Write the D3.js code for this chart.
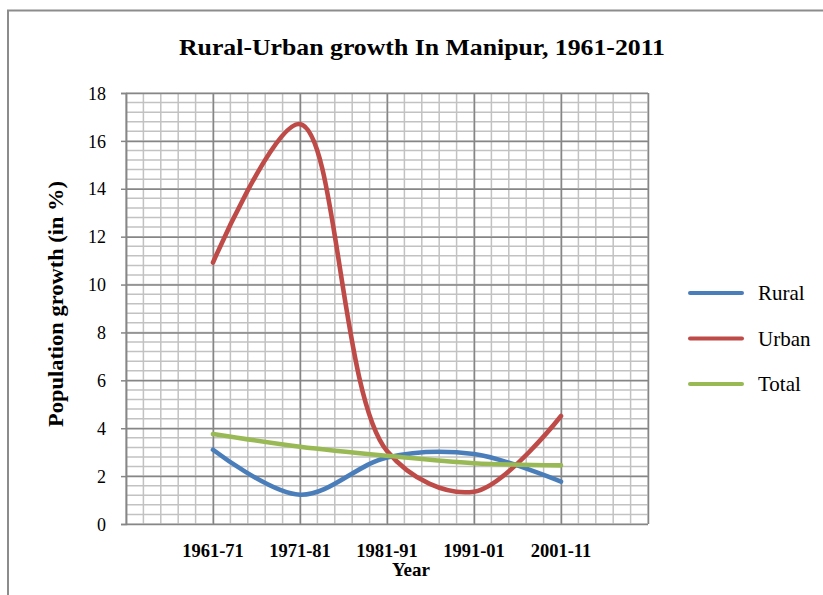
<!DOCTYPE html>
<html>
<head>
<meta charset="utf-8">
<script src="https://cdnjs.cloudflare.com/ajax/libs/d3/7.8.5/d3.min.js"></script>
<style>
    body { margin: 0; background: #ffffff; }
    svg { display: block; font-family: "Liberation Serif", "Times New Roman", serif; }
</style>
</head>
<body>
<div id="chart"></div>
<script>
const YEARS = ["1961-71", "1971-81", "1981-91", "1991-01", "2001-11"];
const RURAL = [3.1, 1.22, 2.78, 2.92, 1.77];
const URBAN = [10.92, 16.7, 3.05, 1.35, 4.51];
const TOTAL = [3.76, 3.23, 2.85, 2.54, 2.45];
const Y_TICKS = [0, 2, 4, 6, 8, 10, 12, 14, 16, 18];

const SERIES = [
    { name: "Rural", values: RURAL, color: "#4a7ebb" },
    { name: "Urban", values: URBAN, color: "#be4b48" },
    { name: "Total", values: TOTAL, color: "#98b954" }
];

const width = 823;
const height = 595;
const plot = { left: 126, right: 648, top: 93, bottom: 524 };

const svg = d3.select("#chart")
    .append("svg")
    .attr("width", width)
    .attr("height", height);

// outer chart border (only top and left show in the crop)
svg.append("path")
    .attr("d", `M8,${height} V10.5 H${width}`)
    .attr("fill", "none")
    .attr("stroke", "#8c8c8c")
    .attr("stroke-width", 2);

const x = d3.scaleLinear()
    .domain([0, YEARS.length + 1])
    .range([plot.left, plot.right]);

const y = d3.scaleLinear()
    .domain([0, 18])
    .range([plot.bottom, plot.top]);

// minor gridlines
svg.append("g")
    .selectAll("line")
    .data(d3.range(0, 18.001, 0.4))
    .enter()
    .append("line")
    .attr("x1", plot.left)
    .attr("x2", plot.right)
    .attr("y1", d => y(d))
    .attr("y2", d => y(d))
    .attr("stroke", "#c2c2c2")
    .attr("stroke-width", 1.5);

svg.append("g")
    .selectAll("line")
    .data(d3.range(0, 6.001, 0.2))
    .enter()
    .append("line")
    .attr("x1", d => x(d))
    .attr("x2", d => x(d))
    .attr("y1", plot.top)
    .attr("y2", plot.bottom)
    .attr("stroke", "#c2c2c2")
    .attr("stroke-width", 1.5);

// major gridlines
svg.append("g")
    .attr("transform", `translate(${plot.left},0)`)
    .call(d3.axisLeft(y).tickValues(Y_TICKS).tickSize(-(plot.right - plot.left)).tickFormat(""))
    .call(g => g.select(".domain").remove())
    .selectAll("line")
    .attr("stroke", "#868686")
    .attr("stroke-width", 1.5);

svg.append("g")
    .attr("transform", `translate(0,${plot.bottom})`)
    .call(d3.axisBottom(x).tickValues(d3.range(0, 7)).tickSize(-(plot.bottom - plot.top)).tickFormat(""))
    .call(g => g.select(".domain").remove())
    .selectAll("line")
    .attr("stroke", "#868686")
    .attr("stroke-width", 1.5);

// y axis with outside ticks
const yAxis = svg.append("g")
    .attr("transform", `translate(${plot.left},0)`)
    .call(d3.axisLeft(y).tickValues(Y_TICKS).tickSize(5).tickPadding(15));
yAxis.select(".domain").attr("stroke", "#868686").attr("stroke-width", 1.5);
yAxis.selectAll("line").attr("stroke", "#868686").attr("stroke-width", 1.5);
yAxis.selectAll("text")
    .style("font-family", "'Liberation Serif', serif")
    .style("font-size", "18px")
    .attr("fill", "#000")
    .attr("dy", "0.34em");

// x axis category labels
svg.append("g")
    .selectAll("text")
    .data(YEARS)
    .enter()
    .append("text")
    .attr("x", (d, i) => x(i + 1))
    .attr("y", 557)
    .attr("text-anchor", "middle")
    .attr("font-size", 18.5)
    .attr("font-weight", "bold")
    .text(d => d);

// smooth lines
const line = d3.line()
    .x((d, i) => x(i + 1))
    .y(d => y(d))
    .curve(d3.curveCatmullRom.alpha(0.5));

svg.append("g")
    .selectAll("path")
    .data(SERIES)
    .enter()
    .append("path")
    .attr("d", d => line(d.values))
    .attr("fill", "none")
    .attr("stroke", d => d.color)
    .attr("stroke-width", 4.6)
    .attr("stroke-linecap", "round");

// titles
svg.append("text")
    .attr("x", 422)
    .attr("y", 55)
    .attr("text-anchor", "middle")
    .attr("font-size", 24)
    .attr("font-weight", "bold")
    .attr("textLength", 486)
    .attr("lengthAdjust", "spacingAndGlyphs")
    .text("Rural-Urban growth In Manipur, 1961-2011");

svg.append("text")
    .attr("x", 411)
    .attr("y", 576)
    .attr("text-anchor", "middle")
    .attr("font-size", 19)
    .attr("font-weight", "bold")
    .text("Year");

svg.append("text")
    .attr("transform", "translate(63,304) rotate(-90)")
    .attr("text-anchor", "middle")
    .attr("font-size", 21)
    .attr("font-weight", "bold")
    .attr("textLength", 246)
    .attr("lengthAdjust", "spacingAndGlyphs")
    .text("Population growth (in %)");

// legend
const legend = svg.append("g")
    .attr("transform", "translate(690,293)");

const legendRow = legend.selectAll("g")
    .data(SERIES)
    .enter()
    .append("g")
    .attr("transform", (_, i) => `translate(0,${i * 45.5})`);

legendRow.append("line")
    .attr("x1", 0)
    .attr("x2", 52)
    .attr("stroke", d => d.color)
    .attr("stroke-width", 4)
    .attr("stroke-linecap", "round");

legendRow.append("text")
    .attr("x", 68)
    .attr("y", 7)
    .attr("font-size", 21)
    .text(d => d.name);
</script>
</body>
</html>
